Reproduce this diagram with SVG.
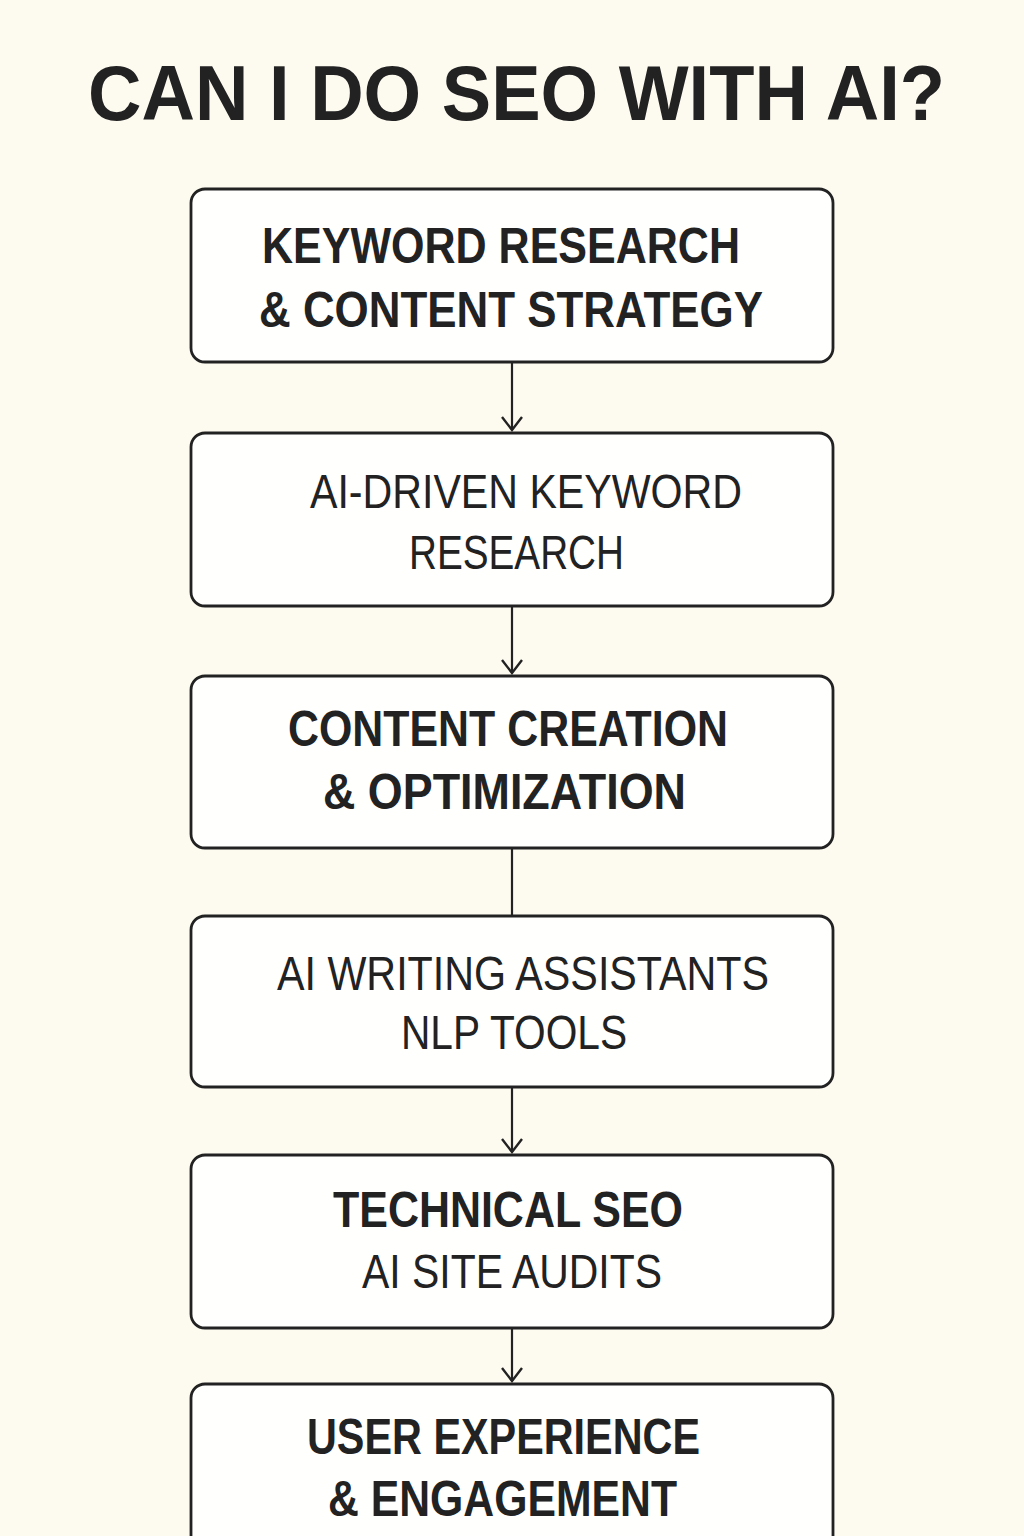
<svg xmlns="http://www.w3.org/2000/svg" width="1024" height="1536" viewBox="0 0 1024 1536">
<style>
.box{fill:#FFFFFE;stroke:#222;stroke-width:2.8}
.t{font-family:"Liberation Sans",Arial,sans-serif;fill:#222;text-anchor:middle}
.b{font-weight:bold;font-size:50px}
.r{font-weight:normal;font-size:49px}
.title{font-family:"Liberation Sans",Arial,sans-serif;font-weight:bold;font-size:78px;fill:#222;text-anchor:middle}
.conn{stroke:#222;stroke-width:2.2;fill:none}
</style>
<defs>
<marker id="ah" markerUnits="userSpaceOnUse" markerWidth="24" markerHeight="24" refX="15" refY="12" orient="auto" viewBox="0 0 24 24">
<path d="M2,2 L15,12 L2,22" fill="none" stroke="#222" stroke-width="2.4"/>
</marker>
</defs>
<rect width="1024" height="1536" fill="#FDFAF0"/>
<text class="title" x="516.5" y="120" textLength="857" lengthAdjust="spacingAndGlyphs">CAN I DO SEO WITH AI?</text>
<g id="connectors">
<line class="conn" x1="512" y1="362" x2="512" y2="430" marker-end="url(#ah)"/>
<line class="conn" x1="512" y1="606" x2="512" y2="673" marker-end="url(#ah)"/>
<line class="conn" x1="512" y1="848" x2="512" y2="916"/>
<line class="conn" x1="512" y1="1087" x2="512" y2="1152" marker-end="url(#ah)"/>
<line class="conn" x1="512" y1="1328" x2="512" y2="1381" marker-end="url(#ah)"/>
</g>
<g id="node1">
<rect class="box" x="191" y="189" width="642" height="173" rx="14"/>
<text class="t b" x="501" y="263" textLength="478" lengthAdjust="spacingAndGlyphs">KEYWORD RESEARCH</text>
<text class="t b" x="511" y="327" textLength="504" lengthAdjust="spacingAndGlyphs">&amp; CONTENT STRATEGY</text>
</g>
<g id="node2">
<rect class="box" x="191" y="433" width="642" height="173" rx="14"/>
<text class="t r" x="526" y="508" textLength="432" lengthAdjust="spacingAndGlyphs">AI-DRIVEN KEYWORD</text>
<text class="t r" x="516.5" y="569" textLength="215" lengthAdjust="spacingAndGlyphs">RESEARCH</text>
</g>
<g id="node3">
<rect class="box" x="191" y="676" width="642" height="172" rx="14"/>
<text class="t b" x="508" y="746" textLength="440" lengthAdjust="spacingAndGlyphs">CONTENT CREATION</text>
<text class="t b" x="504.5" y="809" textLength="363" lengthAdjust="spacingAndGlyphs">&amp; OPTIMIZATION</text>
</g>
<g id="node4">
<rect class="box" x="191" y="916" width="642" height="171" rx="14"/>
<text class="t r" x="523" y="990" textLength="492" lengthAdjust="spacingAndGlyphs">AI WRITING ASSISTANTS</text>
<text class="t r" x="514" y="1049" textLength="226" lengthAdjust="spacingAndGlyphs">NLP TOOLS</text>
</g>
<g id="node5">
<rect class="box" x="191" y="1155" width="642" height="173" rx="14"/>
<text class="t b" x="508" y="1227" textLength="350" lengthAdjust="spacingAndGlyphs">TECHNICAL SEO</text>
<text class="t r" x="512" y="1288" textLength="300" lengthAdjust="spacingAndGlyphs">AI SITE AUDITS</text>
</g>
<g id="node6">
<rect class="box" x="191" y="1384" width="642" height="200" rx="14"/>
<text class="t b" x="503.5" y="1454" textLength="393" lengthAdjust="spacingAndGlyphs">USER EXPERIENCE</text>
<text class="t b" x="502.5" y="1516" textLength="349" lengthAdjust="spacingAndGlyphs">&amp; ENGAGEMENT</text>
</g>
</svg>
